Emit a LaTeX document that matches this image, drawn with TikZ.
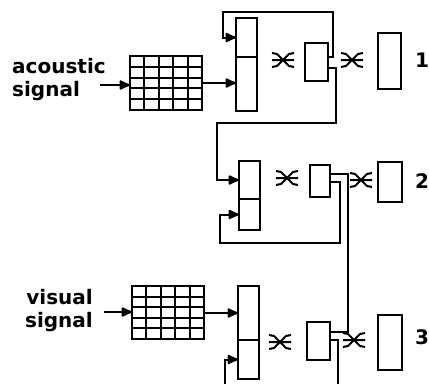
\documentclass[tikz,border=0pt]{standalone}
\usepackage{fontspec}
\newfontfamily\labelfont{DejaVu Sans}
\usetikzlibrary{arrows.meta,calc}
\tikzset{
  every picture/.style={line join=miter},
  unit/.style={draw, line width=2pt, inner sep=0pt, outer sep=0pt},
  map/.style={unit, minimum width=72pt, minimum height=54pt},
  wire/.style={line width=2pt},
  feedwire/.style={line width=2pt, -{Latex[length=13pt,width=11pt,round]}},
  signal/.style={font=\labelfont\bfseries\fontsize{20}{23}\selectfont, inner sep=0pt},
  xlink/.pic={
    \draw[line width=2pt] (-11,-7)--(-6,-6)--(6,6)--(11,7) (-11,7)--(-6,6)--(6,-6)--(11,-7) (-11,0)--(11,0);
  },
}

\begin{document}
\begin{tikzpicture}[x=1pt,y=-1pt]
\useasboundingbox (0,0) rectangle (429,384);
% layer 1
\node[signal, align=left, anchor=west] (acoustic) at (12,80) {acoustic\\signal};
\node[map] (grid1) at (166,83) {};
\node[unit, minimum width=21pt, minimum height=39pt] (in1a) at (246.5,37.5) {};
\node[unit, minimum width=21pt, minimum height=54pt] (in1b) at (246.5,84) {};
\node[unit, minimum width=23pt, minimum height=38pt] (hid1) at (316.5,62) {};
\node[unit, minimum width=23pt, minimum height=56pt] (out1) at (389.5,61) {};
\pic at (283,60) {xlink};
\pic at (352,60) {xlink};
\node[signal, anchor=west] (n1) at (415,60) {1};
% layer 2
\node[unit, minimum width=21pt, minimum height=38pt] (in2a) at (249.5,180) {};
\node[unit, minimum width=21pt, minimum height=31pt] (in2b) at (249.5,214.5) {};
\node[unit, minimum width=20pt, minimum height=32pt] (hid2) at (320,181) {};
\node[unit, minimum width=24pt, minimum height=40pt] (out2) at (390,182) {};
\pic at (287,178) {xlink};
\pic at (361,180) {xlink};
\node[signal, anchor=west] (n2) at (415,181) {2};
% layer 3
\node[signal, align=right, anchor=east] (visual) at (93,311) {visual\\signal};
\node[map, minimum height=53pt] (grid2) at (168,312.5) {};
\node[unit, minimum width=21pt, minimum height=54pt] (in3a) at (248.5,313) {};
\node[unit, minimum width=21pt, minimum height=39pt] (in3b) at (248.5,359.5) {};
\node[unit, minimum width=23pt, minimum height=38pt] (hid3) at (318.5,341) {};
\node[unit, minimum width=24pt, minimum height=55pt] (out3) at (390,342.5) {};
\pic at (280,342) {xlink};
\pic at (354,340) {xlink};
\node[signal, anchor=west] (n3) at (415,337) {3};

\foreach \g in {grid1,grid2}{
  \foreach \i in {1,...,4}{
    \draw[wire] ($(\g.north west)!\i/5!(\g.north east)$) -- ($(\g.south west)!\i/5!(\g.south east)$);
    \draw[wire] ($(\g.north west)!\i/5!(\g.south west)$) -- ($(\g.north east)!\i/5!(\g.south east)$);
  }
}

\coordinate (src1) at (100,85);
\coordinate (src2) at (104,312);
\coordinate (bot3) at (225,384);
\coordinate (out3b) at (338,384);
\draw[feedwire] (src1) -- (src1 -| grid1.west);
\draw[feedwire] (grid1.east) -- (grid1.east -| in1b.west);
\draw[feedwire] ($(hid1.east)+(0,-5)$) -| (333,12) -| ($(in1a.west)+(-13,0)$) -- (in1a.west);
\draw[feedwire] ($(hid1.east)+(0,6)$) -| (336,123) -| ($(in2a.west)+(-22,0)$) -- (in2a.west);
\draw[feedwire] ($(hid2.east)+(0,1)$) -| (340,243) -| ($(in2b.west)+(-19,0)$) -- (in2b.west);
\draw[wire] ($(hid2.east)+(0,-7)$) -| ($(hid3.east)+(18,-9)$) -- ($(hid3.east)+(0,-9)$);
\draw[feedwire] (src2) -- (src2 -| grid2.west);
\draw[feedwire] (grid2.east |- in3a.west) -- (in3a.west);
\draw[feedwire] (bot3) |- (in3b.west);
\draw[wire] ($(hid3.east)+(0,-1)$) -| (out3b);
\end{tikzpicture}
\end{document}
